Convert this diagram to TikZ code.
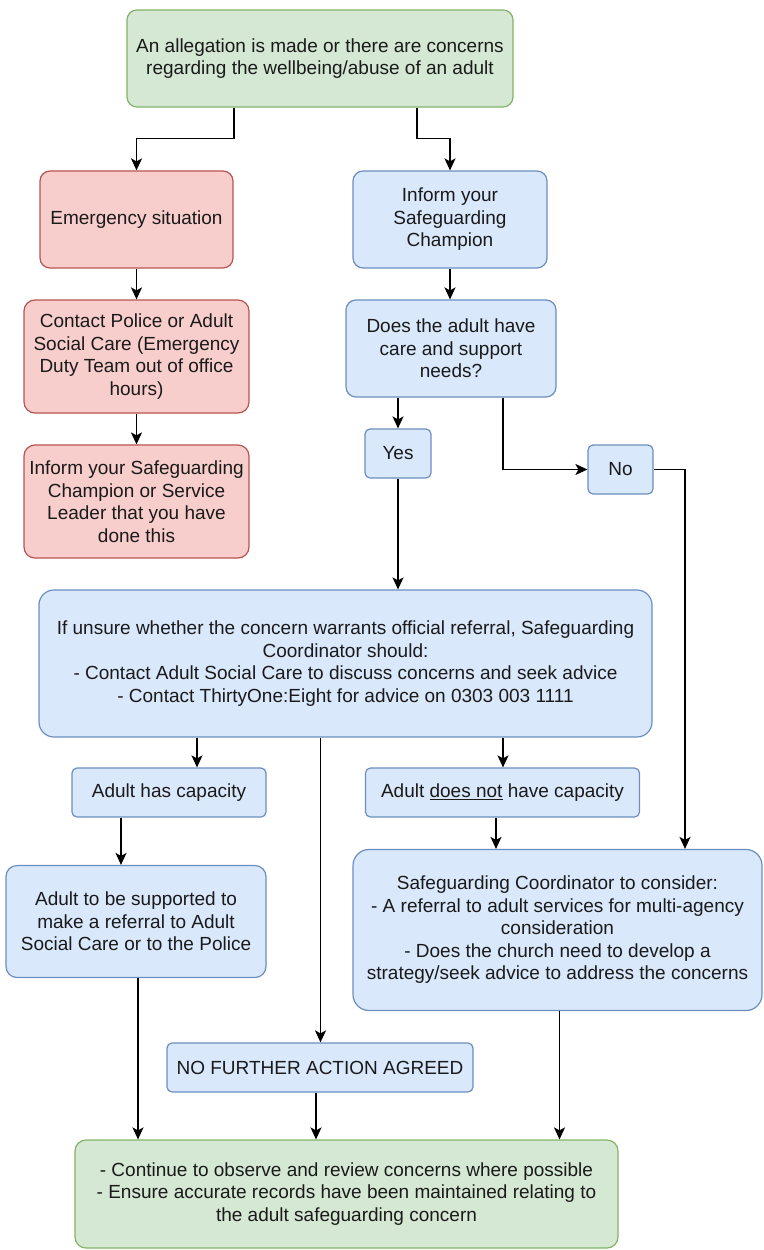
\documentclass[tikz,border=0pt]{standalone}
\usepackage{fontspec}
\setmainfont{Liberation Sans}
\usetikzlibrary{arrows.meta,calc}
\definecolor{gfill}{HTML}{D5E8D4}\definecolor{gline}{HTML}{82B366}
\definecolor{rfill}{HTML}{F8CECC}\definecolor{rline}{HTML}{B85450}
\definecolor{bfill}{HTML}{DAE8FC}\definecolor{bline}{HTML}{6C8EBF}
\definecolor{txt}{HTML}{1A1A1A}
\tikzset{
  box/.style={draw, line width=1.2pt, align=center, inner sep=0pt, text=txt,
    font=\fontsize{19}{22.5}\selectfont},
  gbox/.style={box, fill=gfill, draw=gline},
  rbox/.style={box, fill=rfill, draw=rline},
  bbox/.style={box, fill=bfill, draw=bline},
  arr/.style={line width=1.6pt, draw=black, -{Stealth[length=12pt,width=11pt,inset=3pt]}},
  conn/.style={line width=1.6pt, draw=black}
}
\begin{document}
\begin{tikzpicture}[x=1pt,y=-1pt]
\useasboundingbox (0,0) rectangle (763,1250);
\node[gbox, minimum width=386, minimum height=97, rounded corners=10pt] (top) at (320,58.5)
  {An allegation is made or there are concerns\\regarding the wellbeing/abuse of an adult};
\node[rbox, minimum width=193, minimum height=97, rounded corners=10pt] (emerg) at (136.5,219.5)
  {Emergency situation};
\node[bbox, minimum width=194, minimum height=97, rounded corners=10pt] (inform) at (450,219.5)
  {Inform your\\Safeguarding\\Champion};
\node[rbox, minimum width=225, minimum height=113, rounded corners=11pt] (contact) at (136.5,356.5)
  {Contact Police or Adult\\Social Care (Emergency\\Duty Team out of office\\hours)};
\node[rbox, minimum width=225, minimum height=113, rounded corners=11pt] (inform2) at (136.5,501.5)
  {Inform your Safeguarding\\Champion or Service\\Leader that you have\\done this};
\node[bbox, minimum width=210, minimum height=97, rounded corners=10pt] (does) at (451,348.5)
  {Does the adult have\\care and support\\needs?};
\node[bbox, minimum width=66, minimum height=49, rounded corners=5pt] (yes) at (398,453.5) {Yes};
\node[bbox, minimum width=65, minimum height=49, rounded corners=5pt] (no) at (620.5,469.5) {No};
\node[bbox, minimum width=613, minimum height=147, rounded corners=15pt] (big) at (345.5,663.5)
  {If unsure whether the concern warrants official referral, Safeguarding\\Coordinator should:\\- Contact Adult Social Care to discuss concerns and seek advice\\- Contact ThirtyOne:Eight for advice on 0303 003 1111};
\node[bbox, minimum width=194, minimum height=49, rounded corners=5pt] (hascap) at (169,792.5)
  {Adult has capacity};
\node[bbox, minimum width=274, minimum height=49, rounded corners=5pt] (doesnot) at (502.5,792.5)
  {Adult \underline{does not} have capacity};
\node[bbox, minimum width=260, minimum height=112, rounded corners=11pt] (supported) at (136,921.5)
  {Adult to be supported to\\make a referral to Adult\\Social Care or to the Police};
\node[bbox, minimum width=409, minimum height=161, rounded corners=16pt] (sc) at (557.5,930)
  {Safeguarding Coordinator to consider:\\- A referral to adult services for multi-agency\\consideration\\- Does the church need to develop a\\strategy/seek advice to address the concerns};
\node[bbox, minimum width=306, minimum height=49, rounded corners=5pt] (nfa) at (320,1067.5)
  {NO FURTHER ACTION AGREED};
\node[gbox, minimum width=543, minimum height=108, rounded corners=11pt] (bottom) at (346.5,1194)
  {- Continue to observe and review concerns where possible\\- Ensure accurate records have been maintained relating to\\the adult safeguarding concern};
% connectors
\draw[arr] ([xshift=-86pt]top.south) -- ++(0,31) -| (emerg.north);
\draw[arr] ([xshift=97pt]top.south) -- ++(0,31) -| (inform.north);
\draw[arr] (emerg.south) -- (contact.north);
\draw[arr] (contact.south) -- (inform2.north);
\draw[arr] (inform.south) -- (inform.south |- does.north);
\draw[arr] (yes.north |- does.south) -- (yes.north);
\draw[arr] ([xshift=52pt]does.south) |- (no.west);
\coordinate (nocorner) at (685,469.5);
\draw[arr] (no.east) -- (nocorner) -- (nocorner |- sc.north);
\draw[arr] (yes.south) -- (yes.south |- big.north);
\coordinate (b1) at ([xshift=-148.5pt]big.south);
\draw[arr] (b1) -- (b1 |- hascap.north);
\coordinate (b2) at ([xshift=157.5pt]big.south);
\draw[arr] (b2) -- (b2 |- doesnot.north);
\coordinate (b3) at ([xshift=-25pt]big.south);
\draw[arr] (b3) -- (b3 |- nfa.north);
\coordinate (h1) at ([xshift=-48pt]hascap.south);
\draw[arr] (h1) -- (h1 |- supported.north);
\coordinate (d1) at ([xshift=-6.5pt]doesnot.south);
\draw[arr] (d1) -- (d1 |- sc.north);
\coordinate (s1) at ([xshift=2pt]supported.south);
\draw[arr] (s1) -- (s1 |- bottom.north);
\coordinate (n1) at ([xshift=-4pt]nfa.south);
\draw[arr] (n1) -- (n1 |- bottom.north);
\coordinate (c1) at ([xshift=2pt]sc.south);
\draw[arr] (c1) -- (c1 |- bottom.north);
\end{tikzpicture}
\end{document}
